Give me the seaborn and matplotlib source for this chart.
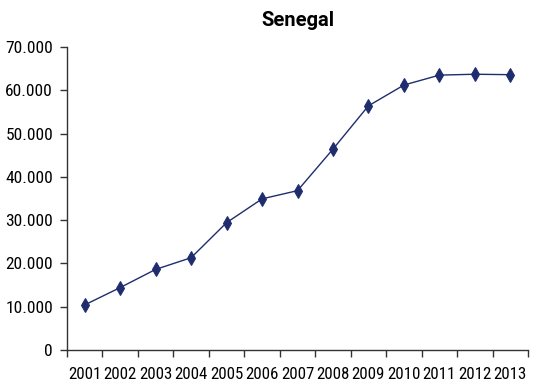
"""Senegal series, line chart with diamond markers"""
import matplotlib
matplotlib.use("Agg")
import matplotlib.pyplot as plt
import matplotlib.ticker as mticker
import seaborn as sns
import pandas as pd
import numpy as np

years = ["2001", "2002", "2003", "2004", "2005", "2006", "2007",
         "2008", "2009", "2010", "2011", "2012", "2013"]
values = [10400, 14400, 18600, 21300, 29400, 34900, 36800,
          46400, 56400, 61200, 63500, 63700, 63600]

sns.set_style("ticks")
plt.rcParams["font.family"] = ["Roboto Condensed", "DejaVu Sans"]

df = pd.DataFrame({"pos": np.arange(len(years)), "year": years, "value": values})

fig = plt.figure(figsize=(5.42, 3.87), dpi=100)
ax = fig.add_axes([0.1236, 0.0959, 0.8506, 0.7827])

sns.lineplot(data=df, x="pos", y="value", ax=ax, color="#1f2d6e",
             linewidth=1.0, marker="d", markersize=7.5,
             markeredgecolor="#1f2d6e", markerfacecolor="#1f2d6e")

ax.set_xlim(-0.5, len(years) - 0.5)
ax.set_ylim(0, 70000)
ax.yaxis.set_major_locator(mticker.MultipleLocator(10000))
ax.yaxis.set_major_formatter(mticker.FuncFormatter(
    lambda v, p: "0" if v == 0 else f"{int(v):,}".replace(",", ".")))

# category boundaries get the tick marks, labels sit in the middle
ax.set_xticks(np.arange(-0.5, len(years), 1.0))
ax.set_xticklabels([])
ax.set_xticks(df["pos"], minor=True)
ax.set_xticklabels(years, minor=True)
ax.tick_params(axis="x", which="minor", length=0, pad=12, labelsize=12.2,
               labelcolor="black")
ax.tick_params(axis="x", which="major", length=5, width=1, color="#333333")
ax.tick_params(axis="y", length=5, width=1, color="#333333", labelsize=12.5,
               labelcolor="black", pad=5)

ax.set_xlabel("")
ax.set_ylabel("")
for side in ["top", "right"]:
    ax.spines[side].set_visible(False)
for side in ["left", "bottom"]:
    ax.spines[side].set_color("#333333")
    ax.spines[side].set_linewidth(1.0)

ax.set_title("Senegal", fontsize=14.5, fontweight="bold", pad=15,
             family=["Roboto", "DejaVu Sans"], color="black")

fig.savefig("out.png", dpi=100)
